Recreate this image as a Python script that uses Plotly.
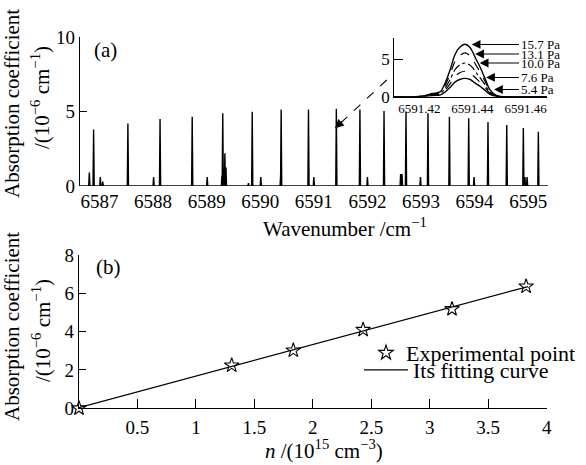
import numpy as np
import plotly.graph_objects as go

# ---------------- data ----------------
# (a) survey spectrum: line centres (cm^-1) and peak absorption (1e-6 cm^-1)
peak_wn = [6586.81, 6586.89, 6587.015, 6587.06, 6587.53, 6588.01, 6588.13, 6588.73,
           6589.01, 6589.285, 6589.30, 6589.34, 6589.36, 6589.78, 6589.85, 6590.01,
           6590.38, 6590.39, 6590.90, 6591.00, 6591.42, 6591.86, 6592.00, 6592.31,
           6592.62, 6592.645, 6592.72, 6592.99, 6593.13, 6593.53, 6593.89, 6593.99,
           6594.25, 6594.60, 6594.91, 6594.94, 6594.98, 6595.19]
peak_val = [0.9, 3.8, 0.6, 0.3, 4.2, 0.6, 4.5, 4.65,
            0.6, 0.7, 4.9, 2.2, 1.25, 0.2, 5.0, 0.6,
            0.7, 5.15, 5.15, 0.6, 5.2, 5.15, 0.6, 5.05,
            0.8, 0.8, 5.0, 0.6, 4.9, 4.65, 4.55, 0.6,
            4.3, 4.1, 3.9, 0.6, 0.6, 3.65]

# inset: profiles of the 6591.44 cm^-1 line at several pressures
inset_wn = [6591.4106, 6591.418, 6591.4215, 6591.424, 6591.4265, 6591.428, 6591.4297,
            6591.4316, 6591.4334, 6591.4352, 6591.4372, 6591.439, 6591.4403, 6591.4415,
            6591.4428, 6591.4447, 6591.4466, 6591.4491, 6591.452, 6591.4679]
p157 = [0, 0, 0.1, 0.35, 0.5, 0.7, 1.8, 3.6, 5.6, 6.6, 7.0, 6.6, 5.8, 4.9, 4.0, 2.45, 0.9, 0.13, 0, 0]
p131 = [0, 0, 0.08, 0.3, 0.42, 0.58, 1.5, 3.0, 4.7, 5.5, 5.85, 5.5, 4.85, 4.1, 3.35, 2.05, 0.75, 0.1, 0, 0]
p100 = [0, 0, 0.06, 0.22, 0.32, 0.45, 1.15, 2.3, 3.6, 4.25, 4.5, 4.25, 3.75, 3.15, 2.55, 1.6, 0.6, 0.08, 0, 0]
p76 = [0, 0, 0.05, 0.17, 0.24, 0.34, 0.87, 1.75, 2.7, 3.2, 3.4, 3.2, 2.8, 2.4, 1.95, 1.2, 0.45, 0.06, 0, 0]
p54 = [0, 0, 0.04, 0.12, 0.18, 0.25, 0.63, 1.26, 1.95, 2.3, 2.45, 2.3, 2.0, 1.7, 1.4, 0.86, 0.32, 0.05, 0, 0]
pressure_labels = ["15.7 Pa", "13.1 Pa", "10.0 Pa", "7.6 Pa", "5.4 Pa"]
label_tip_wn = [6591.4397, 6591.4410, 6591.4427, 6591.4451, 6591.4481]
label_tip_val = [6.98, 5.7, 4.5, 2.57, 0.96]

# (b) absorption coefficient vs number density
n_dens = [0.0, 1.306, 1.833, 2.43, 3.19, 3.824]
alpha = [0.0, 2.24, 3.02, 4.1, 5.18, 6.36]
fit_extent = [0.0, 3.84]

# ---------------- figure ----------------
FONT = "Liberation Serif, Times New Roman, DejaVu Serif, serif"
W, H = 586, 465


def px(x):
    return x / W


def py(y):
    return 1 - y / H


fig = go.Figure()

# stick spectrum built from the line list
spec_x = [6586.636]
spec_y = [0.0]
hw = 0.011
for wn, v in sorted(zip(peak_wn, peak_val)):
    spec_x += [wn - hw, wn, wn + hw]
    spec_y += [0.0, v, 0.0]
spec_x.append(6595.37)
spec_y.append(0.0)

fig.add_trace(go.Scatter(x=spec_x, y=spec_y, mode="lines", line=dict(color="black", width=1.4),
                         xaxis="x", yaxis="y", showlegend=False, hoverinfo="skip"))

# inset curves
for prof, dash, w in [(p157, "solid", 1.4), (p131, "dash", 1.2), (p100, "dashdot", 1.2),
                      (p76, "dash", 1.2), (p54, "solid", 1.4)]:
    fig.add_trace(go.Scatter(x=inset_wn, y=prof, mode="lines",
                             line=dict(color="black", width=w, dash=dash, shape="spline", smoothing=0.8),
                             xaxis="x3", yaxis="y3", showlegend=False, hoverinfo="skip"))

# (b) points and linear fit
coef = np.polyfit(n_dens, alpha, 1)
fit_y = np.polyval(coef, fit_extent)
fig.add_trace(go.Scatter(x=fit_extent, y=fit_y, mode="lines", line=dict(color="black", width=1.2),
                         xaxis="x2", yaxis="y2", name="Its fitting curve", legend="legend2",
                         cliponaxis=False))
fig.add_trace(go.Scatter(x=n_dens, y=alpha, mode="markers",
                         marker=dict(symbol="star-open", size=11, color="black", line=dict(width=1.1)),
                         xaxis="x2", yaxis="y2", name="Experimental point", legend="legend",
                         cliponaxis=False))

tickfont = dict(family=FONT, size=19, color="black")

fig.update_layout(
    width=W, height=H,
    margin=dict(l=0, r=0, t=0, b=0),
    paper_bgcolor="white", plot_bgcolor="white",
    font=dict(family=FONT, color="black"),
    xaxis=dict(domain=[px(80), px(548)], range=[6586.636, 6595.37], anchor="y",
               tickvals=[6587, 6588, 6589, 6590, 6591, 6592, 6593, 6594, 6595],
               ticks="", showline=False, showgrid=False, zeroline=False,
               tickfont=tickfont, ticklabelstandoff=2, automargin=False),
    yaxis=dict(domain=[py(186), py(37.3)], range=[0, 10], anchor="x",
               tickvals=[0, 5, 10], ticks="inside", ticklen=7, tickcolor="black",
               showline=True, linecolor="black", linewidth=1.2,
               showgrid=False, zeroline=False, tickfont=tickfont, automargin=False),
    xaxis2=dict(domain=[px(79), px(546.7)], range=[0, 4], anchor="y2",
                tickvals=[0.5, 1, 1.5, 2, 2.5, 3, 3.5, 4],
                ticktext=["0.5", "1", "1.5", "2", "2.5", "3", "3.5", "4"],
                ticks="inside", ticklen=9, tickcolor="black",
                showline=True, linecolor="black", linewidth=1.2,
                showgrid=False, zeroline=False, tickfont=tickfont, ticklabelstandoff=2, automargin=False),
    yaxis2=dict(domain=[py(408.3), py(255)], range=[0, 8], anchor="x2",
                tickvals=[0, 2, 4, 6, 8], ticks="inside", ticklen=7, tickcolor="black",
                showline=True, linecolor="black", linewidth=1.2,
                showgrid=False, zeroline=False, tickfont=tickfont, automargin=False),
    xaxis3=dict(domain=[px(394.3), px(546.7)], range=[6591.4106, 6591.4679], anchor="y3",
                tickvals=[6591.42, 6591.44, 6591.46], ticktext=["6591.42", "6591.44", "6591.46"],
                ticks="", showline=True, linecolor="black", linewidth=1.2,
                showgrid=False, zeroline=False,
                tickfont=dict(family=FONT, size=13, color="black"), ticklabelstandoff=0, automargin=False),
    yaxis3=dict(domain=[py(96.7), py(38.3)], range=[0, 7.8], anchor="x3",
                tickvals=[0, 5], ticks="inside", ticklen=9, tickcolor="black",
                showline=True, linecolor="black", linewidth=1.2,
                showgrid=False, zeroline=False,
                tickfont=dict(family=FONT, size=17, color="black"), automargin=False),
    legend=dict(x=px(366), y=py(332), xanchor="left", yanchor="top",
                bgcolor="rgba(0,0,0,0)", borderwidth=0,
                font=dict(family=FONT, size=22, color="black"), itemwidth=30),
    legend2=dict(x=px(359), y=py(349), xanchor="left", yanchor="top",
                 bgcolor="rgba(0,0,0,0)", borderwidth=0,
                 font=dict(family=FONT, size=22, color="black"), itemwidth=44),
)

ann = []
title_font = dict(family=FONT, size=21, color="black")
# panel labels
ann.append(dict(text="(a)", x=px(92), y=py(50), xref="paper", yref="paper", xanchor="left",
                yanchor="middle", showarrow=False, font=title_font))
ann.append(dict(text="(b)", x=px(94), y=py(267), xref="paper", yref="paper", xanchor="left",
                yanchor="middle", showarrow=False, font=title_font))
# y titles
for yc1, yc2 in [(104, 98), (327, 331)]:
    ann.append(dict(text="Absorption coefficient", x=px(12), y=py(yc1), xref="paper", yref="paper",
                    textangle=-90, showarrow=False, xanchor="center", yanchor="middle", font=title_font))
    ann.append(dict(text="/(10<sup>−6</sup> cm<sup>−1</sup>)", x=px(41), y=py(yc2), xref="paper",
                    yref="paper", textangle=-90, showarrow=False, xanchor="center", yanchor="middle",
                    font=title_font))
# x titles
ann.append(dict(text="Wavenumber /cm<sup>−1</sup>", x=px(345), y=py(228), xref="paper", yref="paper",
                showarrow=False, xanchor="center", yanchor="middle", font=title_font))
ann.append(dict(text="<i>n</i> /(10<sup>15</sup> cm<sup>−3</sup>)", x=px(324), y=py(449), xref="paper",
                yref="paper", showarrow=False, xanchor="center", yanchor="middle", font=title_font))

# pressure labels in the inset, arrows pointing left to the curves
x3_lo, x3_hi = 6591.4106, 6591.4679
for lab, tx, ty in zip(pressure_labels, label_tip_wn, label_tip_val):
    tip_px = 394.3 + (tx - x3_lo) / (x3_hi - x3_lo) * (546.7 - 394.3)
    ann.append(dict(text=lab, x=tx, y=ty, xref="x3", yref="y3", ax=519 - tip_px, ay=0,
                    showarrow=True, arrowhead=2, arrowsize=1.6, arrowwidth=1.1, arrowcolor="black",
                    xanchor="left", yanchor="middle",
                    font=dict(family=FONT, size=13, color="black")))

# dashed pointer from inset to the line in (a)
tip_x, tip_y = 335.0, 128.3
tail_x, tail_y = 386.7, 80.0
ann.append(dict(text="", x=px(tip_x), y=py(tip_y), xref="paper", yref="paper",
                ax=9, ay=-8.5, showarrow=True, arrowhead=2, arrowsize=1.6, arrowwidth=1.1,
                arrowcolor="black"))
fig.update_layout(annotations=ann)
fig.add_shape(type="line", xref="paper", yref="paper", x0=px(tail_x), y0=py(tail_y),
              x1=px(tip_x + 6), y1=py(tip_y - 5.6), line=dict(color="black", width=1.1, dash="dash"))

fig.write_html("out.html", config={"displayModeBar": False},
               post_script="document.body.style.margin='0';document.body.style.padding='0';")
